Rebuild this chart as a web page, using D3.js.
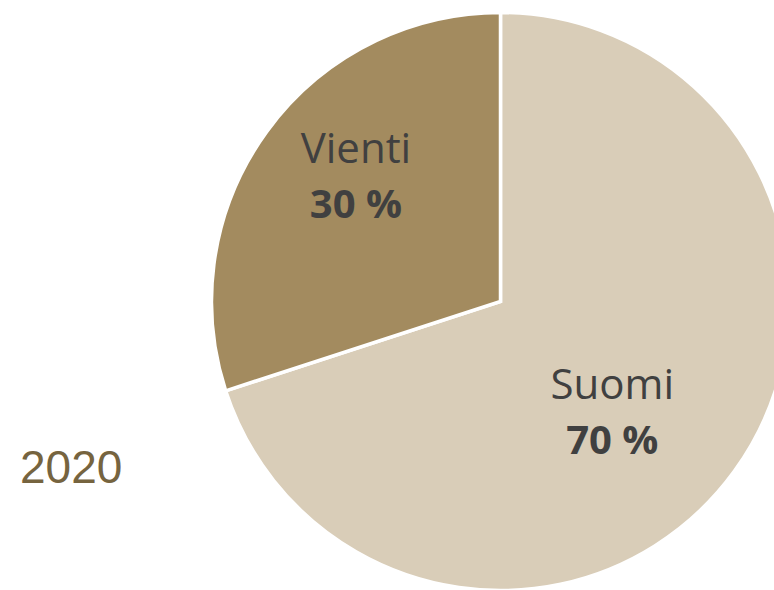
<!DOCTYPE html>
<html>
<head>
<meta charset="utf-8">
<script src="https://cdn.jsdelivr.net/npm/d3@7"></script>
<style>
  body { margin: 0; background: #fff; }
  svg { display: block; }
</style>
</head>
<body>
<div id="chart"></div>
<script>
"use strict";

// == DATA ==
var categories = ["Suomi", "Vienti"];
var shares = [70, 30];
var year = "2020";
var colors = ["#d9cdb8", "#a38b5f"];

var width = 774, height = 590;
var cx = 500.5, cy = 301.5, radius = 289;

var svg = d3.select("#chart")
  .append("svg")
  .attr("width", width)
  .attr("height", height);

var data = categories.map(function (c, i) { return { name: c, value: shares[i] }; });

var pie = d3.pie()
  .sort(null)
  .value(function (d) { return d.value; });

var arc = d3.arc()
  .innerRadius(0)
  .outerRadius(radius);

var g = svg.append("g")
  .attr("transform", "translate(" + cx + "," + cy + ")");

var arcs = pie(data);

g.selectAll("path")
  .data(arcs)
  .enter()
  .append("path")
  .attr("d", arc)
  .style("fill", function (d, i) { return colors[i]; })
  .style("stroke", "#fff")
  .style("stroke-width", 3.5)
  .style("stroke-linejoin", "miter");

// label placement: radius and a slight angular shift per slice
var labelRadius = [163, 186];
var labelShift = [10.7, 3];

var labels = g.selectAll("g.label")
  .data(arcs)
  .enter()
  .append("g")
  .attr("class", "label")
  .attr("transform", function (d, i) {
    var a = (d.startAngle + d.endAngle) / 2 + labelShift[i] * Math.PI / 180;
    var r = labelRadius[i];
    return "translate(" + (Math.sin(a) * r) + "," + (-Math.cos(a) * r) + ")";
  });

labels.append("text")
  .attr("text-anchor", "middle")
  .attr("y", -21)
  .style("font-family", "'Open Sans', sans-serif")
  .style("font-size", "42px")
  .style("fill", "#404040")
  .text(function (d) { return d.data.name; });

labels.append("text")
  .attr("text-anchor", "middle")
  .attr("y", 34)
  .style("font-family", "'Open Sans', sans-serif")
  .style("font-size", "40px")
  .style("font-weight", "bold")
  .style("fill", "#404040")
  .text(function (d) { return d.data.value + " %"; });

svg.append("text")
  .attr("x", 20)
  .attr("y", 483)
  .style("font-family", "'Liberation Sans', Arial, sans-serif")
  .style("font-size", "46px")
  .style("fill", "#76643f")
  .text(year);
</script>
</body>
</html>
